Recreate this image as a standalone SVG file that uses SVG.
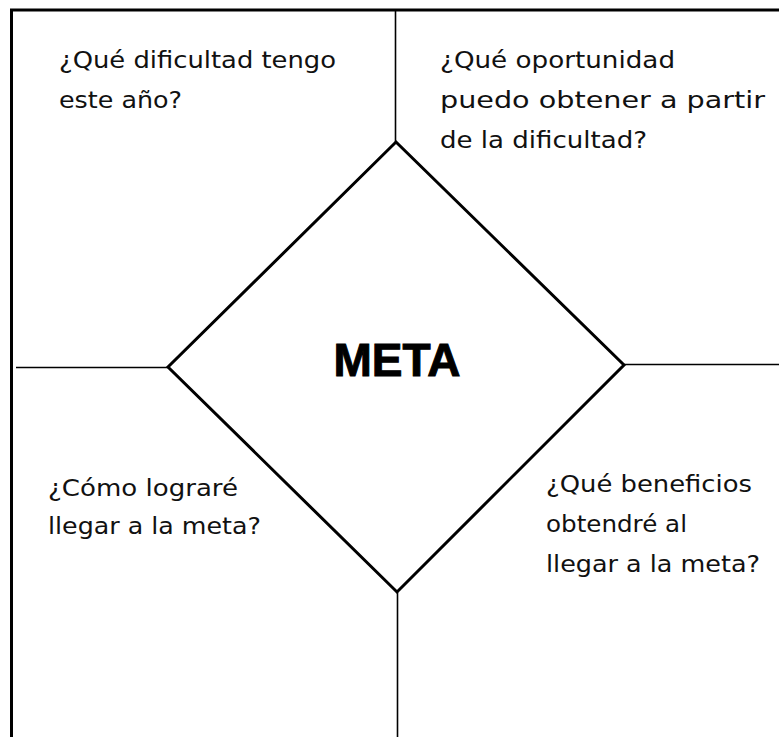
<svg xmlns="http://www.w3.org/2000/svg" width="779" height="737" viewBox="0 0 779 737">
  <style>
    .frame { fill: none; stroke: #000; stroke-width: 3; }
    .conn { fill: none; stroke: #000; stroke-width: 1.6; }
    .diamond { fill: #fff; stroke: #000; stroke-width: 3; stroke-linejoin: miter; }
    .q { font-family: "DejaVu Sans", "Noto Sans", sans-serif; font-size: 23px; fill: #111; }
    .title { font-family: "Liberation Sans", Arial, sans-serif; font-size: 46px; font-weight: bold; fill: #000; text-anchor: middle; stroke: #000; stroke-width: 1; }
  </style>
  <rect width="779" height="737" fill="#fff"/>
  <g id="frame">
    <path class="frame" d="M11.5,737 V10 H779"/>
  </g>
  <g id="connectors">
    <line class="conn" x1="395.5" y1="10" x2="395.5" y2="142"/>
    <line class="conn" x1="16" y1="367.5" x2="168" y2="367.5"/>
    <line class="conn" x1="624" y1="364.5" x2="779" y2="364.5"/>
    <line class="conn" x1="397.5" y1="592" x2="397.5" y2="737"/>
  </g>
  <g id="meta">
    <polygon class="diamond" points="396,142 624,365 397,592 168,367"/>
    <text class="title" x="397" y="376">META</text>
  </g>
  <g id="dificultad">
    <text class="q" x="59" y="68" textLength="277" lengthAdjust="spacingAndGlyphs">¿Qué dificultad tengo</text>
    <text class="q" x="59" y="107.5" textLength="123" lengthAdjust="spacingAndGlyphs">este año?</text>
  </g>
  <g id="oportunidad">
    <text class="q" x="440" y="68" textLength="235" lengthAdjust="spacingAndGlyphs">¿Qué oportunidad</text>
    <text class="q" x="440" y="108" textLength="325" lengthAdjust="spacingAndGlyphs">puedo obtener a partir</text>
    <text class="q" x="440" y="148" textLength="207" lengthAdjust="spacingAndGlyphs">de la dificultad?</text>
  </g>
  <g id="lograr">
    <text class="q" x="48" y="495.5" textLength="190" lengthAdjust="spacingAndGlyphs">¿Cómo lograré</text>
    <text class="q" x="48" y="533.5" textLength="213" lengthAdjust="spacingAndGlyphs">llegar a la meta?</text>
  </g>
  <g id="beneficios">
    <text class="q" x="546" y="491.5" textLength="206" lengthAdjust="spacingAndGlyphs">¿Qué beneficios</text>
    <text class="q" x="546" y="531.5" textLength="141" lengthAdjust="spacingAndGlyphs">obtendré al</text>
    <text class="q" x="546" y="571.5" textLength="214" lengthAdjust="spacingAndGlyphs">llegar a la meta?</text>
  </g>
</svg>
